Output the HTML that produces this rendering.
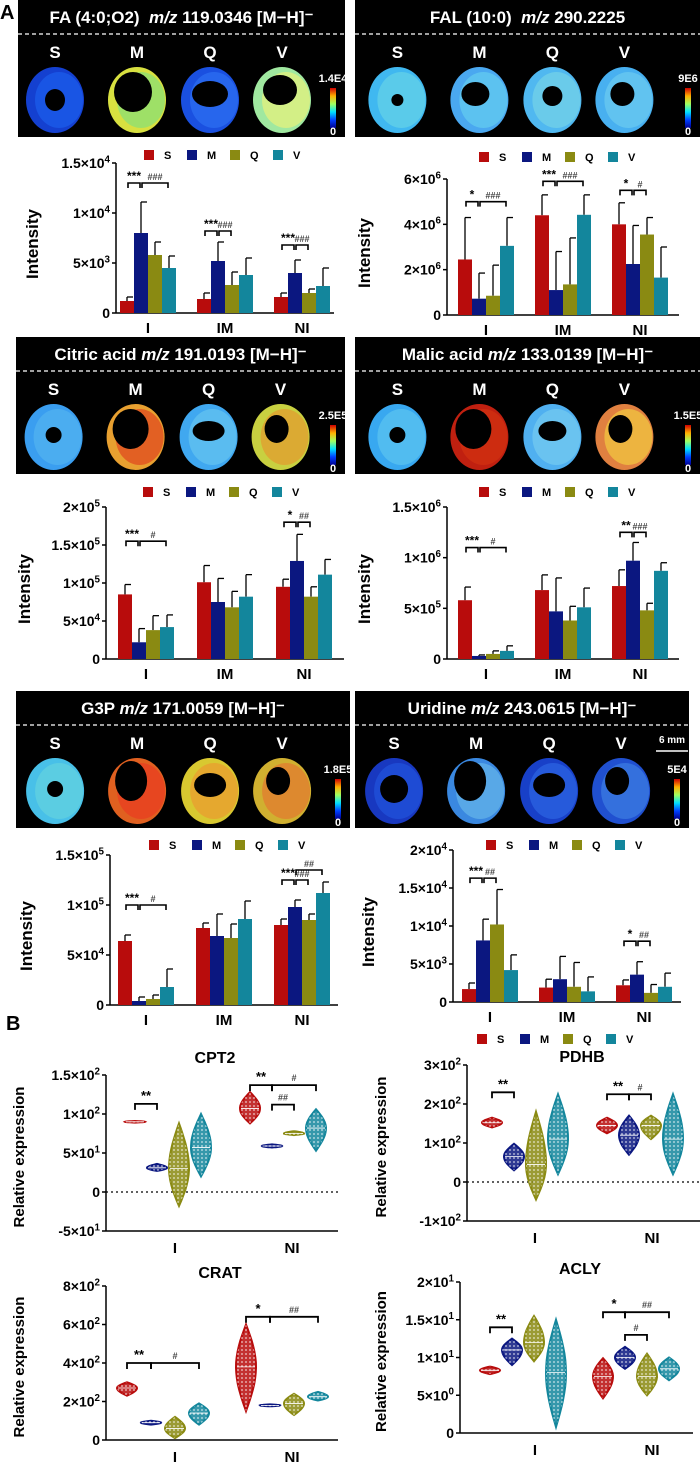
<!DOCTYPE html>
<html><head><meta charset="utf-8"><style>
html,body{margin:0;padding:0;background:#fff;}
svg{display:block;font-family:"Liberation Sans",Arial,sans-serif;}
</style></head><body>
<svg id="fig" width="700" height="1465" viewBox="0 0 700 1465" xmlns="http://www.w3.org/2000/svg">
<defs>
<pattern id="dots" width="4" height="4" patternUnits="userSpaceOnUse"><circle cx="2" cy="2" r="0.9" fill="#fff" fill-opacity="0.75"/></pattern>
<linearGradient id="jet" x1="0" y1="1" x2="0" y2="0">
<stop offset="0" stop-color="#00008f"/><stop offset="0.2" stop-color="#0040ff"/><stop offset="0.4" stop-color="#00e0ff"/><stop offset="0.6" stop-color="#a0ff60"/><stop offset="0.8" stop-color="#ffb000"/><stop offset="1" stop-color="#d00000"/>
</linearGradient>
</defs>
<text x="0" y="19" font-size="20" font-weight="bold">A</text>
<text x="6" y="1030" font-size="20" font-weight="bold">B</text>
</svg>
<script>
// ---------- data ----------
const groups = ['I','IM','NI'];
const seriesNames = ['S','M','Q','V'];
const vGroups = ['I','NI'];

const faMeans = [[1200,8000,5800,4500],[1400,5200,2800,3800],[1600,4000,2000,2700]];
const faErrs  = [[1600,11100,7100,5700],[2000,7100,4100,5500],[2000,5300,2400,4500]];
const faTicks = [0,5000,10000,15000];
const faTickLabels = ['0','5×10^3','1×10^4','1.5×10^4'];
const faSig = [[0,0,1,13000,'***'],[0,1,3,13000,'###'],[1,0,1,8200,'***'],[1,1,2,8200,'###'],[2,0,1,6800,'***'],[2,1,2,6800,'###']];

const falMeans = [[2.45e6,0.72e6,0.85e6,3.05e6],[4.4e6,1.1e6,1.35e6,4.42e6],[4.0e6,2.25e6,3.55e6,1.65e6]];
const falErrs  = [[4.3e6,1.85e6,2.2e6,4.3e6],[5.3e6,2.8e6,3.4e6,5.3e6],[4.95e6,3.95e6,4.3e6,3.0e6]];
const falTicks = [0,2e6,4e6,6e6];
const falTickLabels = ['0','2×10^6','4×10^6','6×10^6'];
const falSig = [[0,0,1,5.0e6,'*'],[0,1,3,5.0e6,'###'],[1,0,1,5.9e6,'***'],[1,1,3,5.9e6,'###'],[2,0,1,5.5e6,'*'],[2,1,2,5.5e6,'#']];

const citMeans = [[85000,22000,38000,42000],[101000,75000,68000,82000],[95000,129000,82000,111000]];
const citErrs  = [[98000,40000,57000,58000],[123000,106000,89000,111000],[105000,164000,95000,131000]];
const citTicks = [0,50000,100000,150000,200000];
const citTickLabels = ['0','5×10^4','1×10^5','1.5×10^5','2×10^5'];
const citSig = [[0,0,1,155000,'***'],[0,1,3,155000,'#'],[2,0,1,180000,'*'],[2,1,2,180000,'##']];

const malMeans = [[580000,30000,50000,80000],[680000,470000,380000,510000],[720000,970000,480000,870000]];
const malErrs  = [[710000,40000,80000,130000],[830000,800000,520000,700000],[880000,1150000,550000,950000]];
const malTicks = [0,500000,1000000,1500000];
const malTickLabels = ['0','5×10^5','1×10^6','1.5×10^6'];
const malSig = [[0,0,1,1100000,'***'],[0,1,3,1100000,'#'],[2,0,1,1250000,'**'],[2,1,2,1250000,'###']];

const g3pMeans = [[64000,4000,6000,18000],[77000,69000,67000,86000],[80000,98000,85000,112000]];
const g3pErrs  = [[70000,8000,10000,36000],[82000,91000,81000,104000],[86000,105000,91000,123000]];
const g3pTicks = [0,50000,100000,150000];
const g3pTickLabels = ['0','5×10^4','1×10^5','1.5×10^5'];
const g3pSig = [[0,0,1,100000,'***'],[0,1,3,100000,'#'],[2,0,1,125000,'***'],[2,1,2,125000,'###'],[2,1,3,135000,'##']];

const uriMeans = [[1700,8100,10200,4200],[1900,3000,2000,1400],[2200,3600,1200,2000]];
const uriErrs  = [[2500,10900,14800,6200],[3000,6000,5200,3300],[2900,5300,2300,3800]];
const uriTicks = [0,5000,10000,15000,20000];
const uriTickLabels = ['0','5×10^3','1×10^4','1.5×10^4','2×10^4'];
const uriSig = [[0,0,1,16300,'***'],[0,1,2,16300,'##'],[2,0,1,8000,'*'],[2,1,2,8000,'##']];

// violins: [center, min, max]
const cptViolins = [[[90,89,91],[31,27,36],[30,-18,88],[57,20,100]],[[107,88,128],[59,57,61],[75,73,78],[82,53,106]]];
const cptTicks = [-50,0,50,100,150];
const cptTickLabels = ['-5×10^1','0','5×10^1','1×10^2','1.5×10^2'];
const cptSig = [[0,0,1,113,'**'],[1,0,1,137,'**'],[1,1,2,112,'##'],[1,1,3,137,'#']];

const pdhViolins = [[[152,140,165],[65,30,98],[45,-45,180],[110,20,225]],[[145,125,165],[120,70,170],[145,110,170],[110,20,225]]];
const pdhTicks = [-100,0,100,200,300];
const pdhTickLabels = ['-1×10^2','0','1×10^2','2×10^2','3×10^2'];
const pdhSig = [[0,0,1,230,'**'],[1,0,1,225,'**'],[1,1,2,225,'#']];

const craViolins = [[[270,230,300],[90,80,100],[60,10,120],[140,80,190]],[[380,150,600],[180,175,185],[190,130,240],[225,205,250]]];
const craTicks = [0,200,400,600,800];
const craTickLabels = ['0','2×10^2','4×10^2','6×10^2','8×10^2'];
const craSig = [[0,0,1,400,'**'],[0,1,3,400,'#'],[1,0,1,640,'*'],[1,1,3,640,'##']];

const aclViolins = [[[8.3,7.8,8.8],[11,9,12.5],[12,9.5,15.5],[8,0.8,15]],[[7.5,4.6,9.9],[10,8.5,11.4],[7.5,5,10.5],[8.5,7,10]]];
const aclTicks = [0,5,10,15,20];
const aclTickLabels = ['0','5×10^0','1×10^1','1.5×10^1','2×10^1'];
const aclSig = [[0,0,1,14,'**'],[1,0,1,16,'*'],[1,1,3,16,'##'],[1,1,2,13,'#']];

// ---------- drawing ----------
const NS='http://www.w3.org/2000/svg';
const svg=document.getElementById('fig');
const COLORS=['#b80c0c','#0b1780','#8a8a12','#13869c'];
function mk(tag,attrs,parent){const e=document.createElementNS(NS,tag);for(const k in attrs)e.setAttribute(k,attrs[k]);(parent||svg).appendChild(e);return e;}
function supText(parent,x,y,label,size,anchor){
  const t=mk('text',{x:x,y:y,'font-size':size,'font-weight':'bold','text-anchor':anchor||'end'},parent);
  const p=label.split('^');
  t.appendChild(document.createTextNode(p[0]));
  if(p[1]){const s=mk('tspan',{'font-size':size*0.7,dy:-size*0.4},t);s.textContent=p[1];}
  return t;
}

function imageBox(b){
  const g=mk('g',{});
  
  
  mk('rect',{x:b.x,y:b.y,width:b.w,height:b.h,fill:'#000'},g);
  const t=mk('text',{x:b.x+b.w/2,y:b.y+23,'font-size':17,'font-weight':'bold',fill:'#fff','text-anchor':'middle'},g);
  
  
  t.innerHTML=b.title;
  mk('line',{x1:b.x,x2:b.x+b.w,y1:b.y+34,y2:b.y+34,stroke:'#fff','stroke-dasharray':'4,3','stroke-width':1.2},g);
  const offs=[37,119,192,264];
  seriesNames.forEach((s,i)=>{
    const cx=b.x+offs[i]+(b.w-327)*0.3, lt=mk('text',{x:cx,y:b.y+58,'font-size':17,'font-weight':'bold',fill:'#fff','text-anchor':'middle'},g);
    lt.textContent=s;
    const h=mk('g',{},g);
    
    
    mk('ellipse',{cx:cx,cy:b.y+100,rx:29,ry:33,fill:b.fills[i][0]},h);
    mk('ellipse',{cx:cx+4,cy:b.y+100,rx:24,ry:28,fill:b.fills[i][1],opacity:0.8},h);
    mk('ellipse',{cx:cx+b.holes[i][0],cy:b.y+96+b.holes[i][1],rx:b.holes[i][2],ry:b.holes[i][3],fill:'#000'},h);
  });
  const cbx=b.x+b.w-15;
  const cb=mk('rect',{x:cbx,y:b.y+88,width:6,height:40,fill:'url(#jet)'},g);
  
  
  const c1=mk('text',{x:cbx+3,y:b.y+82,'font-size':11,'font-weight':'bold',fill:'#fff','text-anchor':'middle'},g);c1.textContent=b.cmax;
  const c0=mk('text',{x:cbx+3,y:b.y+135,'font-size':11,'font-weight':'bold',fill:'#fff','text-anchor':'middle'},g);c0.textContent='0';
  if(b.scale){
    const s=mk('text',{x:cbx-2,y:b.y+52,'font-size':10,'font-weight':'bold',fill:'#fff','text-anchor':'middle'},g);s.textContent='6 mm';
    mk('line',{x1:cbx-18,x2:cbx+14,y1:b.y+60,y2:b.y+60,stroke:'#fff','stroke-width':1.5},g);
  }
}

function legend(name,x,y){
  const g=mk('g',{});
  
  
  seriesNames.forEach((s,i)=>{
    mk('rect',{x:x+i*43,y:y-5,width:10,height:10,fill:COLORS[i]},g);
    const t=mk('text',{x:x+i*43+20,y:y+4,'font-size':11,'font-weight':'bold'},g);t.textContent=s;
  });
}

function barChart(c,means,errs,ticks,tickLabels,sig){
  const g=mk('g',{});
  
  
  const ymax=ticks[ticks.length-1];
  const Y=v=>c.yZero-(v/ymax)*(c.yZero-c.yTop);
  const bw=14;
  const X=(gi,si)=>c.x0+c.pad+gi*c.band+si*bw;
  mk('line',{x1:c.x0,x2:c.x0,y1:c.yTop,y2:c.yZero,stroke:'#000','stroke-width':1.5},g);
  mk('line',{x1:c.x0,x2:c.x0+c.pad*2+2*c.band+4*bw,y1:c.yZero,y2:c.yZero,stroke:'#000','stroke-width':1.5},g);
  ticks.forEach((t,i)=>{
    mk('line',{x1:c.x0-4,x2:c.x0,y1:Y(t),y2:Y(t),stroke:'#000','stroke-width':1.5},g);
    const tl=supText(g,c.x0-6,Y(t)+5,tickLabels[i],14);
    
    
  });
  const yt=mk('text',{x:0,y:0,'font-size':17,'font-weight':'bold','text-anchor':'middle',transform:`translate(${c.titleX},${(c.yTop+c.yZero)/2+6}) rotate(-90)`},g);
  
  
  yt.textContent='Intensity';
  groups.forEach((gn,gi)=>{
    const xl=mk('text',{x:X(gi,2),y:c.yZero+20,'font-size':15,'font-weight':'bold','text-anchor':'middle'},g);
    
    
    xl.textContent=gn;
    means[gi].forEach((m,si)=>{
      const x=X(gi,si);
      const er=mk('line',{x1:x+bw/2,x2:x+bw/2,y1:Y(m),y2:Y(errs[gi][si]),stroke:'#000','stroke-width':1.3},g);
      
      
      mk('line',{x1:x+bw/2,x2:x+bw/2+6,y1:Y(errs[gi][si]),y2:Y(errs[gi][si]),stroke:'#000','stroke-width':1.3},g);
      const r=mk('rect',{x:x,y:Y(m),width:bw,height:c.yZero-Y(m),fill:COLORS[si]},g);
      
      
    });
  });
  sig.forEach(s=>{
    const x1=X(s[0],s[1])+bw/2+1, x2=X(s[0],s[2])+bw/2-1, y=Y(s[3]);
    const p=mk('path',{d:`M${x1} ${y+5}V${y}H${x2}V${y+5}`,fill:'none',stroke:'#000','stroke-width':1.6},g);
    
    
    const t=mk('text',{x:(x1+x2)/2,y:y-3,'font-size':s[4].includes('#')?9:12,'font-weight':'bold','text-anchor':'middle',fill:s[4].includes('#')?'#444':'#000'},g);
    t.textContent=s[4];
  });
  legend(c.name+'-legend',c.legX,c.legY);
}

function violinChart(c,data,ticks,tickLabels,sig){
  const g=mk('g',{});
  
  
  const ymin=ticks[0], ymax=ticks[ticks.length-1];
  const Y=v=>c.yBot-(v-ymin)/(ymax-ymin)*(c.yBot-c.yTop);
  const X=(gi,si)=>c.gc[gi]+(si-1.5)*c.sp;
  mk('line',{x1:c.x0,x2:c.x0,y1:c.yTop,y2:c.yBot,stroke:'#000','stroke-width':1.5},g);
  mk('line',{x1:c.x0,x2:c.x1,y1:c.yBot,y2:c.yBot,stroke:'#000','stroke-width':1.5},g);
  if(ymin<0) mk('line',{x1:c.x0,x2:c.x1,y1:Y(0),y2:Y(0),stroke:'#000','stroke-width':1.2,'stroke-dasharray':'2,3'},g);
  ticks.forEach((t,i)=>{
    mk('line',{x1:c.x0-4,x2:c.x0,y1:Y(t),y2:Y(t),stroke:'#000','stroke-width':1.5},g);
    const tl=supText(g,c.x0-6,Y(t)+5,tickLabels[i],14);
    
    
  });
  const tt=mk('text',{x:c.tx,y:c.ty,'font-size':16,'font-weight':'bold','text-anchor':'middle'},g);
  
  
  tt.textContent=c.title;
  const yt=mk('text',{x:0,y:0,'font-size':15,'font-weight':'bold','text-anchor':'middle',transform:`translate(${c.titleX},${(c.yTop+c.yBot)/2+4}) rotate(-90)`},g);
  
  
  yt.textContent='Relative expression';
  vGroups.forEach((gn,gi)=>{
    const xl=mk('text',{x:c.lx[gi],y:c.yBot+22,'font-size':15,'font-weight':'bold','text-anchor':'middle'},g);
    
    
    xl.textContent=gn;
    data[gi].forEach((d,si)=>{
      const cx=X(gi,si), W=10, N=16;
      const L=[],R=[];
      for(let k=0;k<=N;k++){
        const v=d[1]+(d[2]-d[1])*k/N;
        let w=v<=d[0]?Math.sin(Math.PI/2*(v-d[1])/Math.max(d[0]-d[1],1e-9)):Math.sin(Math.PI/2*(d[2]-v)/Math.max(d[2]-d[0],1e-9));
        w=W*Math.max(0,w);
        L.push([cx-w,Y(v)]);R.push([cx+w,Y(v)]);
      }
      const pts=L.concat(R.reverse()).map(p=>p[0].toFixed(1)+','+p[1].toFixed(1)).join(' ');
      const vp=mk('polygon',{points:pts,fill:COLORS[si],'fill-opacity':0.85,stroke:COLORS[si],'stroke-width':2},g);
      
      
      mk('polygon',{points:pts,fill:'url(#dots)'},g);
      mk('line',{x1:cx-W*0.9,x2:cx+W*0.9,y1:Y(d[0]),y2:Y(d[0]),stroke:'#fff','stroke-width':0.8},g);
    });
  });
  sig.forEach(s=>{
    const x1=X(s[0],s[1]), x2=X(s[0],s[2]), y=Y(s[3]);
    const p=mk('path',{d:`M${x1} ${y+6}V${y}H${x2}V${y+6}`,fill:'none',stroke:'#000','stroke-width':1.8},g);
    
    
    const t=mk('text',{x:(x1+x2)/2,y:y-4,'font-size':s[4].includes('#')?9:13,'font-weight':'bold','text-anchor':'middle',fill:s[4].includes('#')?'#444':'#000'},g);
    t.textContent=s[4];
  });
}

const ring=[[0,4,10,11],[-4,-4,19,20],[0,-2,18,13],[-2,-6,17,15]];
imageBox({name:'fa',x:18,y:0,w:327,h:137,title:'FA (4:0;O2)&#160; <tspan font-style="italic">m/z</tspan> 119.0346 [M−H]⁻',cmax:'1.4E4',
  fills:[['#1440d0','#1a5ae8'],['#d8e040','#90e070'],['#1a50e0','#2a6cf0'],['#a0e8a0','#e0f080']],holes:ring});
imageBox({name:'fal',x:355,y:0,w:345,h:137,title:'FAL (10:0)&#160; <tspan font-style="italic">m/z</tspan> 290.2225',cmax:'9E6',
  fills:[['#40b8f0','#60d0e8'],['#4aa8f0','#60c8f0'],['#50b8f0','#70d0e8'],['#48b0f0','#68c8f0']],holes:[[0,4,6,6],[-4,-2,14,12],[0,0,10,10],[-2,-2,12,12]]});
imageBox({name:'citric',x:16,y:337,w:329,h:137,title:'Citric acid <tspan font-style="italic">m/z</tspan> 191.0193 [M−H]⁻',cmax:'2.5E5',
  fills:[['#3a9ef0','#50b0f0'],['#e8a030','#e05020'],['#40a8f0','#60c0f0'],['#c8d040','#e0a030']],holes:[[0,2,8,8],[-5,-4,18,20],[0,-2,16,10],[-4,-4,12,14]]});
imageBox({name:'malic',x:355,y:337,w:345,h:137,title:'Malic acid <tspan font-style="italic">m/z</tspan> 133.0139 [M−H]⁻',cmax:'1.5E5',
  fills:[['#38a8f0','#58c0f0'],['#c02010','#d03010'],['#50b0f0','#70c8f0'],['#e08040','#f0c040']],holes:[[0,2,8,8],[-6,-4,18,20],[0,-2,14,10],[-4,-4,12,14]]});
imageBox({name:'g3p',x:16,y:691,w:334,h:137,title:'G3P <tspan font-style="italic">m/z</tspan> 171.0059 [M−H]⁻',cmax:'1.8E5',
  fills:[['#48c0e8','#60d0e0'],['#e06020','#e84020'],['#d8c830','#e8a030'],['#d0b030','#e08030']],holes:[[0,2,8,8],[-6,-6,16,20],[0,-2,16,12],[-4,-6,12,14]]});
imageBox({name:'uridine',x:355,y:691,w:334,h:137,title:'Uridine <tspan font-style="italic">m/z</tspan> 243.0615 [M−H]⁻',cmax:'5E4',scale:true,
  fills:[['#1838c0','#2050d8'],['#3a88e0','#60b0e8'],['#1840c8','#2a60e0'],['#2050d0','#3a78e0']],holes:[[0,2,14,14],[-6,-6,16,20],[0,-2,16,12],[-4,-6,12,14]]});

barChart({name:'fa',x0:116,pad:4,band:77,yTop:163,yZero:313,titleX:38,legX:144,legY:155},faMeans,faErrs,faTicks,faTickLabels,faSig);
barChart({name:'fal',x0:447,pad:11,band:77,yTop:179,yZero:315,titleX:370,legX:479,legY:157},falMeans,falErrs,falTicks,falTickLabels,falSig);
barChart({name:'citric',x0:106,pad:12,band:79,yTop:507,yZero:659,titleX:30,legX:143,legY:492},citMeans,citErrs,citTicks,citTickLabels,citSig);
barChart({name:'malic',x0:447,pad:11,band:77,yTop:507,yZero:659,titleX:370,legX:479,legY:492},malMeans,malErrs,malTicks,malTickLabels,malSig);
barChart({name:'g3p',x0:110,pad:8,band:78,yTop:855,yZero:1005,titleX:32,legX:149,legY:845},g3pMeans,g3pErrs,g3pTicks,g3pTickLabels,g3pSig);
barChart({name:'uridine',x0:453,pad:9,band:77,yTop:850,yZero:1002,titleX:374,legX:486,legY:845},uriMeans,uriErrs,uriTicks,uriTickLabels,uriSig);

legend('panel-b-legend',477,1039);
violinChart({name:'cpt2',title:'CPT2',tx:215,ty:1063,x0:106,x1:338,yTop:1075,yBot:1231,gc:[168,283],sp:22,lx:[175,292],titleX:24},cptViolins,cptTicks,cptTickLabels,cptSig);
violinChart({name:'pdhb',title:'PDHB',tx:582,ty:1062,x0:467,x1:700,yTop:1065,yBot:1221,gc:[525,640],sp:22,lx:[535,652],titleX:386},pdhViolins,pdhTicks,pdhTickLabels,pdhSig);
violinChart({name:'crat',title:'CRAT',tx:220,ty:1278,x0:106,x1:338,yTop:1286,yBot:1440,gc:[163,282],sp:24,lx:[175,292],titleX:24},craViolins,craTicks,craTickLabels,craSig);
violinChart({name:'acly',title:'ACLY',tx:580,ty:1274,x0:460,x1:693,yTop:1282,yBot:1433,gc:[523,636],sp:22,lx:[535,652],titleX:386},aclViolins,aclTicks,aclTickLabels,aclSig);
</script>
</body></html>
